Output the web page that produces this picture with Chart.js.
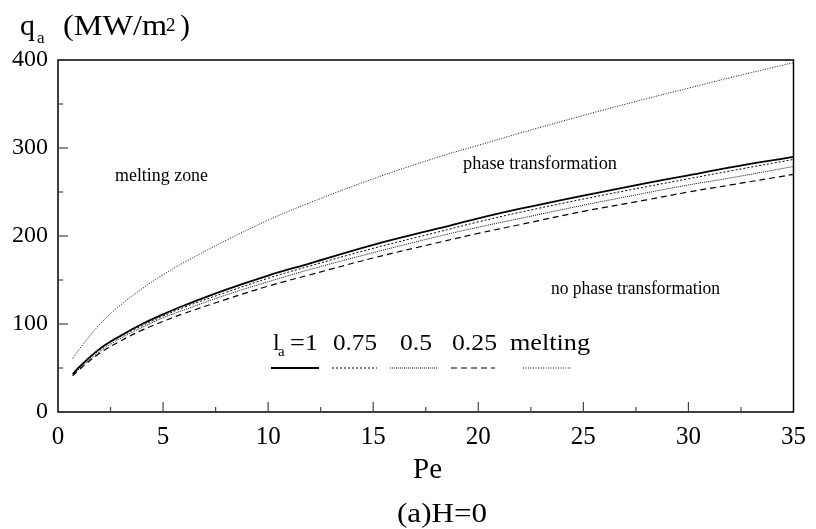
<!DOCTYPE html>
<html>
<head>
<meta charset="utf-8">
<script src="https://cdn.jsdelivr.net/npm/chart.js@4/dist/chart.umd.min.js"></script>
<style>
  html, body { margin: 0; padding: 0; background: #fff; }
  #wrap { width: 816px; height: 529px; }
</style>
</head>
<body>
<div id="wrap"><canvas id="qaChart" width="816" height="529"></canvas></div>
<script>
'use strict'

// Pe values where the curves were read
const pe = [0.7, 1, 2, 3, 4, 5, 6, 8, 10, 12, 15, 18, 20, 22, 25, 28, 30, 32, 35];

// q_a (MW/m2) for each l_a, plus the melting boundary
const la100 = [43, 51, 72, 87, 100, 111, 121, 139, 155, 169, 190, 208, 220, 231, 246, 260, 269, 278, 290];
const la075 = [43, 50, 71, 86, 98, 109, 119, 136, 152, 166, 186, 204, 216, 227, 242, 256, 265, 274, 287];
const la050 = [42, 49, 69, 84, 96, 107, 116, 133, 148, 162, 181, 199, 210, 220, 235, 249, 258, 266, 279];
const la025 = [41, 48, 67, 81, 93, 103, 112, 128, 143, 156, 175, 192, 203, 213, 228, 241, 250, 258, 270];
const melting = [61, 71, 100, 122, 140, 156, 170, 195, 218, 238, 265, 289, 303, 317, 337, 356, 368, 380, 397];

const legendLabels = ['=1', '0.75', '0.5', '0.25', 'melting'];

{
  const serif = '"Liberation Serif", "Times New Roman", serif';

  const toPoints = (ys) => ys.map((y, i) => ({ x: pe[i], y: y }));

  const data = {
    datasets: [
      { label: 'la=1', data: toPoints(la100), borderColor: '#000', borderWidth: 1.8, borderDash: [] },
      { label: '0.75', data: toPoints(la075), borderColor: '#000', borderWidth: 1, borderDash: [2, 2] },
      { label: '0.5', data: toPoints(la050), borderColor: '#111', borderWidth: 1, borderDash: [1, 1] },
      { label: '0.25', data: toPoints(la025), borderColor: '#000', borderWidth: 1.2, borderDash: [6, 4] },
      { label: 'melting', data: toPoints(melting), borderColor: '#111', borderWidth: 1, borderDash: [1, 1.5] },
    ]
  };

  // text squeezed/stretched to the width it has in the figure
  function text(c, str, x, y, size, width) {
    c.font = size + 'px ' + serif;
    if (!width) {
      c.fillText(str, x, y);
      return;
    }
    const w = c.measureText(str).width;
    c.save();
    c.translate(x, y);
    c.scale(width / w, 1);
    c.fillText(str, 0, 0);
    c.restore();
  }

  // ticks pointing into the plot, plus the closed frame and the texts
  const decor = {
    id: 'decor',
    afterDatasetsDraw(chart) {
      const c = chart.ctx;
      const a = chart.chartArea;
      const xs = chart.scales.x;
      const ys = chart.scales.y;
      c.save();
      c.setLineDash([]);
      c.strokeStyle = '#000';
      c.lineWidth = 1.5;
      c.strokeRect(a.left, a.top, a.right - a.left, a.bottom - a.top);

      c.lineWidth = 1.2;
      c.strokeStyle = '#444';
      for (let v = 2.5; v < 35; v += 2.5) {
        const px = xs.getPixelForValue(v);
        const len = (v % 5 === 0) ? 10 : 5;
        c.beginPath();
        c.moveTo(px, a.bottom);
        c.lineTo(px, a.bottom - len);
        c.stroke();
      }
      for (let v = 50; v < 400; v += 50) {
        const py = ys.getPixelForValue(v);
        const len = (v % 100 === 0) ? 10 : 5;
        c.beginPath();
        c.moveTo(a.left, py);
        c.lineTo(a.left + len, py);
        c.stroke();
      }

      c.fillStyle = '#000';
      c.textBaseline = 'alphabetic';
      c.textAlign = 'left';

      // y axis title
      text(c, 'q', 20, 35, 30);
      text(c, 'a', 37, 43, 17);
      text(c, '(MW/m', 63, 35, 30, 104);
      text(c, '2', 166, 31, 19);
      text(c, ')', 180, 35, 30);

      // x axis title and caption
      text(c, 'Pe', 413, 478, 30, 29);
      text(c, '(a)H=0', 397, 522, 27, 90);

      // zone labels
      text(c, 'melting zone', 115, 181, 18, 93);
      text(c, 'phase transformation', 463, 169, 18, 154);
      text(c, 'no phase transformation', 551, 294, 18, 169);

      // legend
      text(c, 'l', 273, 350, 24);
      text(c, 'a', 278, 356, 15);
      const textX = [290, 333, 400, 452, 510];
      const textW = [28, 44, 32, 45, 80];
      const lineX = [[271, 319], [332, 377], [390, 438], [451, 495], [523, 571]];
      chart.data.datasets.forEach((ds, i) => {
        text(c, legendLabels[i], textX[i], 350, 24, textW[i]);
        c.strokeStyle = ds.borderColor;
        c.lineWidth = ds.borderWidth;
        c.setLineDash(ds.borderDash);
        c.beginPath();
        c.moveTo(lineX[i][0], 368);
        c.lineTo(lineX[i][1], 368);
        c.stroke();
      });
      c.restore();
    }
  };

  const options = {
    responsive: false,
    animation: false,
    layout: { padding: { top: 60, right: 18, left: 0, bottom: 0 } },
    elements: { point: { radius: 0 }, line: { tension: 0.4, fill: false } },
    scales: {
      x: {
        type: 'linear',
        min: 0,
        max: 35,
        afterFit(scale) { scale.height = 117; },
        grid: { display: false, drawTicks: false },
        border: { display: false },
        ticks: {
          stepSize: 5,
          padding: 10,
          maxRotation: 0,
          color: '#000',
          font: { family: serif, size: 25 },
        },
      },
      y: {
        min: 0,
        max: 400,
        afterFit(scale) { scale.width = 58; },
        grid: { display: false, drawTicks: false },
        border: { display: false },
        ticks: {
          stepSize: 100,
          padding: 10,
          color: '#000',
          font: { family: serif, size: 24 },
        },
      },
    },
    plugins: {
      legend: { display: false },
      tooltip: { enabled: false },
    },
  };

  const ctx = document.getElementById('qaChart').getContext('2d');
  const qaChart = new Chart(ctx, {
    type: 'line',
    data: data,
    options: options,
    plugins: [decor],
  });
}
</script>
</body>
</html>
